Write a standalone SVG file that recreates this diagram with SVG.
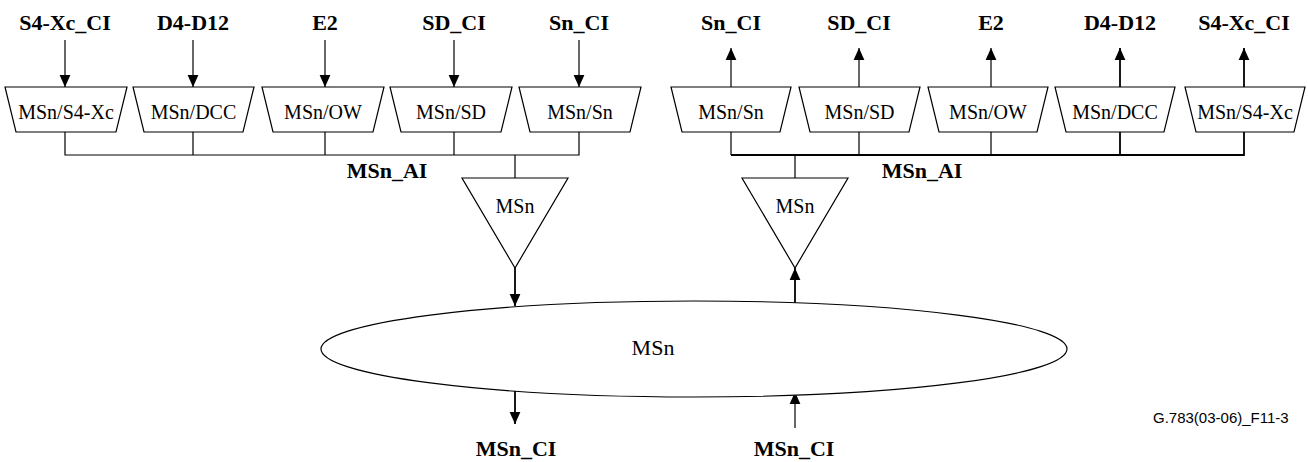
<svg xmlns="http://www.w3.org/2000/svg" width="1308" height="462" viewBox="0 0 1308 462">
<style>
.shape{fill:#fff;stroke:#000;stroke-width:1.2}
.ln{fill:none;stroke:#000;stroke-width:1.2}
.thk{stroke-width:1.8}
.lbl{font-family:"Liberation Serif","Times New Roman",serif;font-weight:bold;font-size:22px;text-anchor:middle;fill:#000}
.txt{font-family:"Liberation Serif","Times New Roman",serif;font-size:20px;text-anchor:middle;fill:#000}
.big{font-size:22px}
.note{font-family:"Liberation Sans",Arial,sans-serif;font-size:15px;fill:#000}
</style>
<defs>
<marker id="ah" markerUnits="userSpaceOnUse" markerWidth="12" markerHeight="12" viewBox="0 0 10 10" refX="10" refY="5" orient="auto">
<path d="M0,0.5 L10,5 L0,9.5 Z" fill="#000"/>
</marker>
</defs>

<g id="connectors">
<line class="ln" x1="65" y1="40" x2="65" y2="87" marker-end="url(#ah)"/>
<line class="ln" x1="193" y1="40" x2="193" y2="87" marker-end="url(#ah)"/>
<line class="ln" x1="325" y1="40" x2="325" y2="87" marker-end="url(#ah)"/>
<line class="ln" x1="454" y1="40" x2="454" y2="87" marker-end="url(#ah)"/>
<line class="ln" x1="579" y1="40" x2="579" y2="87" marker-end="url(#ah)"/>
<path class="ln" d="M65,132 V155 H579 V132 M193,132 V155 M325,132 V155 M454,132 V155 M515,155 V178"/>
<line class="ln thk" x1="515" y1="268" x2="515" y2="306" marker-end="url(#ah)"/>
<line class="ln thk" x1="515" y1="389" x2="515" y2="424" marker-end="url(#ah)"/>
<line class="ln" x1="731" y1="87" x2="731" y2="48" marker-end="url(#ah)"/>
<line class="ln" x1="859" y1="87" x2="859" y2="48" marker-end="url(#ah)"/>
<line class="ln" x1="991" y1="87" x2="991" y2="48" marker-end="url(#ah)"/>
<line class="ln thk" x1="1120" y1="87" x2="1120" y2="48" marker-end="url(#ah)"/>
<line class="ln thk" x1="1244" y1="87" x2="1244" y2="48" marker-end="url(#ah)"/>
<path class="ln" d="M731,132 V155 M859,132 V155 M991,132 V155 M795,155 V178"/>
<path class="ln thk" d="M731,155 H1244 V132 M1120,132 V155"/>
<line class="ln thk" x1="795" y1="304" x2="795" y2="268" marker-end="url(#ah)"/>
<line class="ln" x1="795" y1="428" x2="795" y2="392" marker-end="url(#ah)"/>
</g>

<g id="labels">
<text class="lbl" x="65" y="30">S4-Xc_CI</text>
<text class="lbl" x="193" y="30">D4-D12</text>
<text class="lbl" x="325" y="30">E2</text>
<text class="lbl" x="454" y="30">SD_CI</text>
<text class="lbl" x="579" y="30">Sn_CI</text>
<text class="lbl" x="731" y="30">Sn_CI</text>
<text class="lbl" x="859" y="30">SD_CI</text>
<text class="lbl" x="991" y="30">E2</text>
<text class="lbl" x="1120" y="30">D4-D12</text>
<text class="lbl" x="1244" y="30">S4-Xc_CI</text>
<text class="lbl" x="387" y="178">MSn_AI</text>
<text class="lbl" x="922" y="178">MSn_AI</text>
<text class="lbl" x="516" y="456">MSn_CI</text>
<text class="lbl" x="794" y="456">MSn_CI</text>
<text class="note" x="1153" y="423">G.783(03-06)_F11-3</text>
</g>

<g id="L1"><polygon class="shape" points="5,87 127,87 116,132 16,132"/><text class="txt" x="66" y="119">MSn/S4-Xc</text></g>
<g id="L2"><polygon class="shape" points="133,87 254,87 243,132 144,132"/><text class="txt" x="193.5" y="119">MSn/DCC</text></g>
<g id="L3"><polygon class="shape" points="262,87 384,87 373,132 273,132"/><text class="txt" x="323" y="119">MSn/OW</text></g>
<g id="L4"><polygon class="shape" points="390,87 512,87 501,132 401,132"/><text class="txt" x="451" y="119">MSn/SD</text></g>
<g id="L5"><polygon class="shape" points="519,87 641,87 630,132 530,132"/><text class="txt" x="580" y="119">MSn/Sn</text></g>

<g id="R1"><polygon class="shape" points="671,87 791,87 780,132 682,132"/><text class="txt" x="731" y="119">MSn/Sn</text></g>
<g id="R2"><polygon class="shape" points="799,87 920,87 909,132 810,132"/><text class="txt" x="859.5" y="119">MSn/SD</text></g>
<g id="R3"><polygon class="shape" points="928,87 1048,87 1037,132 939,132"/><text class="txt" x="988" y="119">MSn/OW</text></g>
<g id="R4"><polygon class="shape" points="1055,87 1175,87 1164,132 1066,132"/><text class="txt" x="1115" y="119">MSn/DCC</text></g>
<g id="R5"><polygon class="shape" points="1185,87 1305,87 1294,132 1196,132"/><text class="txt" x="1245" y="119">MSn/S4-Xc</text></g>

<g id="TL"><polygon class="shape" points="462,178 568,178 515,268"/><text class="txt" x="515" y="213">MSn</text></g>
<g id="TR"><polygon class="shape" points="742,178 848,178 795,268"/><text class="txt" x="795" y="213">MSn</text></g>

<g id="E"><ellipse class="shape" cx="694" cy="349" rx="373" ry="48"/><text class="txt big" x="653" y="355">MSn</text></g>
</svg>
